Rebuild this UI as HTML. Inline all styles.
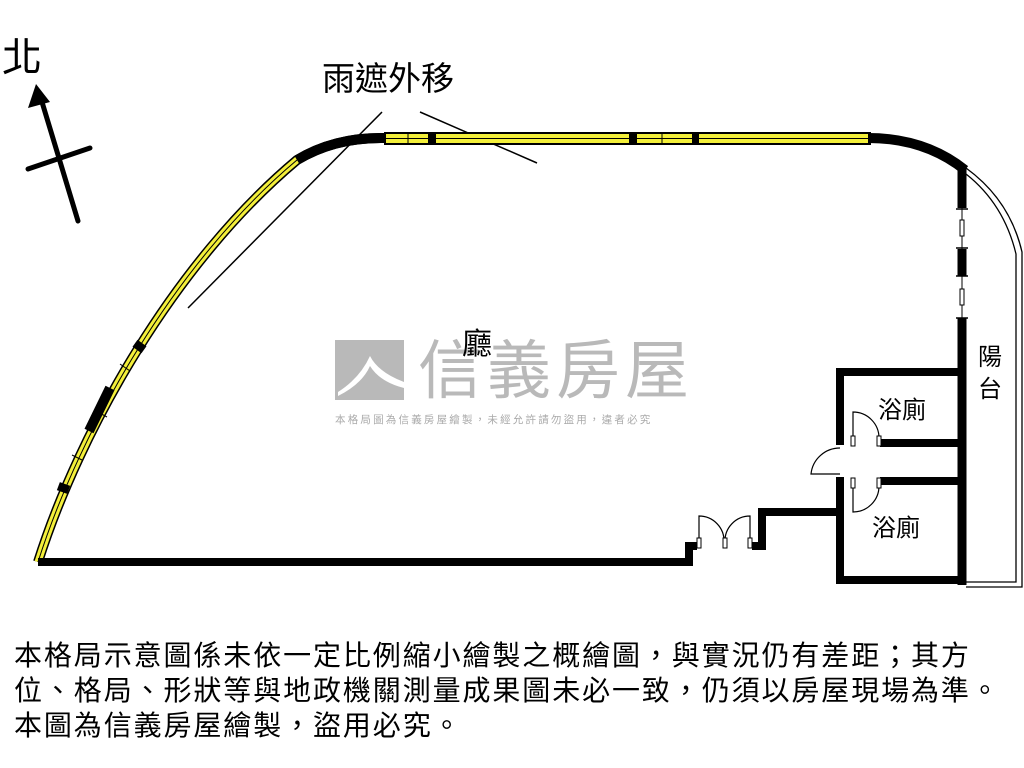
<!DOCTYPE html>
<html><head><meta charset="utf-8"><style>
html,body{margin:0;padding:0;background:#fff;}
body{width:1024px;height:768px;overflow:hidden;position:relative;font-family:"Liberation Sans","Noto Sans CJK TC",sans-serif;}
.t{position:absolute;white-space:nowrap;color:#000;}
</style></head><body>
<svg width="1024" height="768" style="position:absolute;left:0;top:0" xmlns="http://www.w3.org/2000/svg">
<rect x="335" y="340" width="69" height="60" fill="#b9b9b9"/>
<path d="M338,392 Q360,378 370,356 Q378,372 404,382 L404,388 Q380,382 370,366 Q362,384 338,396Z" fill="#fff"/>
<text x="418" y="393" font-size="64" fill="#b9b9b9" font-family="Noto Sans CJK TC, sans-serif" letter-spacing="5">信義房屋</text>
<text x="335" y="423" font-size="10.5" fill="#aaa" font-family="Noto Sans CJK TC, sans-serif" letter-spacing="2.2">本格局圖為信義房屋繪製，未經允許請勿盜用，違者必究</text>

<line x1="78" y1="221" x2="42" y2="102" stroke="#000" stroke-width="5" stroke-linecap="round"/>
<polygon points="36,84 28,108 50,102" fill="#000"/>
<line x1="28" y1="169" x2="90" y2="148" stroke="#000" stroke-width="5" stroke-linecap="round"/>

<line x1="188" y1="308" x2="382" y2="112" stroke="#000" stroke-width="1.5"/>
<line x1="420" y1="112" x2="537" y2="163" stroke="#000" stroke-width="1.5"/>

<path d="M38,562 C80,430 175,262 297,160 Q335,137 385,138" fill="none" stroke="#000" stroke-width="10"/>
<path d="M38,562 C80,430 175,262 297,160 Q335,137 385,138" fill="none" stroke="#f3ef3a" stroke-width="7"/>
<path d="M38,562 C80,430 175,262 297,160 Q335,137 385,138" fill="none" stroke="#000" stroke-width="1"/>
<path d="M297,160 Q335,137 385,138" fill="none" stroke="#000" stroke-width="10"/>
<line x1="89" y1="431" x2="110" y2="388" stroke="#000" stroke-width="10"/>
<line x1="62" y1="492" x2="65" y2="484" stroke="#000" stroke-width="11"/>
<line x1="137" y1="350" x2="142" y2="343" stroke="#000" stroke-width="11"/>
<line x1="96" y1="411" x2="107" y2="417" stroke="#000" stroke-width="1"/>
<line x1="120" y1="364" x2="130" y2="371" stroke="#000" stroke-width="1"/>
<line x1="72" y1="455" x2="82" y2="460" stroke="#000" stroke-width="1"/>

<rect x="385" y="133" width="485" height="11" fill="#f3ef3a" stroke="#000" stroke-width="2"/>
<line x1="385" y1="138.5" x2="870" y2="138.5" stroke="#000" stroke-width="1"/>
<line x1="408" y1="133" x2="408" y2="144" stroke="#000" stroke-width="1"/>
<line x1="662" y1="133" x2="662" y2="144" stroke="#000" stroke-width="1"/>
<rect x="428" y="132" width="8" height="13" fill="#000"/>
<rect x="629" y="132" width="8" height="13" fill="#000"/>
<rect x="692" y="132" width="7" height="13" fill="#000"/>
<path d="M868,138 Q925,138 965,170" fill="none" stroke="#000" stroke-width="10"/>

<line x1="962" y1="168" x2="962" y2="208" stroke="#000" stroke-width="9"/>
<line x1="962" y1="249" x2="962" y2="276" stroke="#000" stroke-width="9"/>
<line x1="962" y1="318" x2="962" y2="585" stroke="#000" stroke-width="9"/>
<line x1="962" y1="208" x2="962" y2="249" stroke="#000" stroke-width="1"/>
<line x1="962" y1="276" x2="962" y2="318" stroke="#000" stroke-width="1"/>
<rect x="960" y="220" width="4" height="16" fill="#fff" stroke="#000" stroke-width="1"/>
<rect x="960" y="289" width="4" height="16" fill="#fff" stroke="#000" stroke-width="1"/>
<line x1="956" y1="209" x2="968" y2="209" stroke="#000" stroke-width="1.5"/>
<line x1="956" y1="248" x2="968" y2="248" stroke="#000" stroke-width="1.5"/>
<line x1="956" y1="276" x2="968" y2="276" stroke="#000" stroke-width="1.5"/>
<line x1="956" y1="318" x2="968" y2="318" stroke="#000" stroke-width="1.5"/>

<path d="M966,168 Q1010,200 1022,252 L1022,587 L966,587" fill="none" stroke="#000" stroke-width="1.3"/>
<path d="M966,174 Q1004,204 1016,254 L1016,582 L966,582" fill="none" stroke="#000" stroke-width="1.3"/>

<g stroke="#000" stroke-width="8" fill="none">
<line x1="836" y1="372" x2="966" y2="372"/>
<line x1="840" y1="368" x2="840" y2="445"/>
<line x1="880" y1="443" x2="966" y2="443"/>
<line x1="880" y1="481" x2="966" y2="481"/>
<line x1="840" y1="477" x2="840" y2="584"/>
<line x1="836" y1="580" x2="966" y2="580"/>
<polyline points="38,562 689,562 689,546 697,546"/>
<polyline points="752,546 762,546 762,512 840,512"/>
</g>
<g stroke="#000" stroke-width="1.2" fill="none">
<path d="M853,443 L853,412 A26,26 0 0 1 879,438"/>
<path d="M853,481 L853,512 A26,26 0 0 0 879,486"/>
<path d="M840,448 A29,29 0 0 0 811,474 L840,474"/>
<path d="M699,545 L699,516 A25,25 0 0 1 724,542"/>
<path d="M750,545 L750,516 A25,25 0 0 0 725,542"/>
</g>
<g fill="#fff" stroke="#000" stroke-width="1">
<rect x="851" y="436" width="4" height="10"/><rect x="877" y="436" width="4" height="10"/>
<rect x="851" y="478" width="4" height="10"/><rect x="877" y="478" width="4" height="10"/>
<rect x="697" y="538" width="4" height="10"/><rect x="723" y="538" width="4" height="10"/><rect x="748" y="538" width="4" height="10"/>
</g>
</svg>

<div class="t" style="left:2px;top:34px;font-size:40px;line-height:48px;">北</div>
<div class="t" style="left:322px;top:58px;font-size:33px;line-height:42px;">雨遮外移</div>
<div class="t" style="left:462px;top:326px;font-size:30px;line-height:38px;">廳</div>
<div class="t" style="left:878px;top:396px;font-size:24px;line-height:30px;">浴廁</div>
<div class="t" style="left:872px;top:514px;font-size:24px;line-height:30px;">浴廁</div>
<div class="t" style="left:978px;top:342px;font-size:24px;line-height:32px;">陽<br>台</div>
<div class="t" style="left:14px;top:638px;font-size:28px;line-height:35px;letter-spacing:1.9px;">本格局示意圖係未依一定比例縮小繪製之概繪圖，與實況仍有差距；其方<br>位、格局、形狀等與地政機關測量成果圖未必一致，仍須以房屋現場為準。<br>本圖為信義房屋繪製，盜用必究。</div>
</body></html>
